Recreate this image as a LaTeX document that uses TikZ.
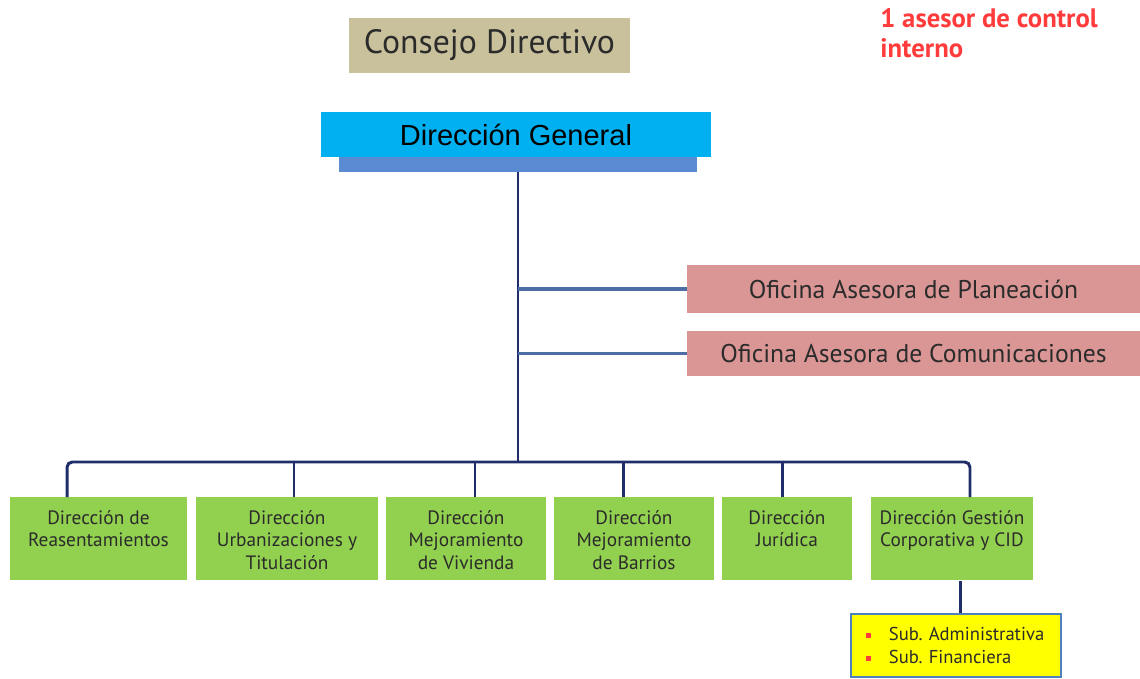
\documentclass[tikz,border=0pt]{standalone}
\usepackage{fontspec}
\setmainfont{PT Sans}
\newfontfamily\arialfont{Liberation Sans}
\usetikzlibrary{positioning}

\definecolor{consejotan}{HTML}{C9C19B}
\definecolor{generalcyan}{HTML}{00B0F0}
\definecolor{generalbar}{HTML}{5A8AD2}
\definecolor{oficinarose}{HTML}{D99694}
\definecolor{dirgreen}{HTML}{92D050}
\definecolor{subyellow}{HTML}{FFFF00}
\definecolor{subblue}{HTML}{4F81BD}
\definecolor{linenavy}{HTML}{1F2D6B}
\definecolor{linesteel}{HTML}{4D6DA5}
\definecolor{asesorred}{HTML}{FF3B3B}
\definecolor{textgray}{HTML}{2B2B2B}

\newcommand{\dirtext}[2]{\parbox[t][1.14cm][t]{#1}{\centering #2}}
\newcommand{\subbullet}{{\color{asesorred}\rule[0.25ex]{3pt}{3pt}}\hspace{10pt}}
\frenchspacing

\begin{document}
\begin{tikzpicture}[x=0.02cm,y=-0.02cm,
  consejo/.style={fill=consejotan, text=textgray, minimum width=5.62cm,
    minimum height=1.1cm, inner sep=0pt, font=\fontsize{19.2}{21}\selectfont},
  general/.style={fill=generalcyan, text=black, minimum width=7.8cm,
    minimum height=0.9cm, inner sep=0pt, font=\arialfont\fontsize{16.5}{18}\selectfont},
  genbar/.style={fill=generalbar, minimum width=7.16cm, minimum height=0.3cm, inner sep=0pt},
  oficina/.style={fill=oficinarose, text=textgray, minimum width=9.06cm,
    inner sep=0pt, font=\fontsize{14.6}{16}\selectfont},
  direccion/.style={fill=dirgreen, text=textgray, anchor=north, inner xsep=0pt,
    inner ysep=0.26cm, minimum height=1.66cm, font=\fontsize{11}{12.8}\selectfont},
  subbox/.style={fill=subyellow, draw=subblue, line width=1.5pt, minimum width=4.2cm,
    minimum height=1.26cm, inner xsep=0.3cm, text width=3.6cm, align=left,
    text=textgray, font=\fontsize{10.6}{13}\selectfont},
  asesor/.style={anchor=north west, align=left, text=asesorred, inner sep=0pt,
    font=\bfseries\fontsize{15.2}{17}\selectfont},
  trunk/.style={draw=linenavy, line width=1.7pt},
  branch/.style={draw=linesteel, line width=2.2pt}]

\useasboundingbox (0,0) rectangle (1140,679);

% Top of the chart
\node[consejo] (cd) at (489.5,45.5) {Consejo Directivo};
\node[asesor] (ci) at (880,8) {1 asesor de control\\interno};
\node[genbar] (dgb) at (518,164.5) {};
\node[general] (dg) at (516,134.5) {Dirección General};

% Advisory offices
\node[oficina, minimum height=0.96cm] (op) at (913.5,289) {Oficina Asesora de Planeación};
\node[oficina, minimum height=0.9cm] (oc) at (913.5,353.5) {Oficina Asesora de Comunicaciones};

% Directions
\node[direccion, minimum width=3.54cm] (d1) at (98.5,497) {\dirtext{3.4cm}{Dirección de\\Reasentamientos}};
\node[direccion, minimum width=3.64cm] (d2) at (287,497) {\dirtext{3.5cm}{Dirección\\Urbanizaciones y\\Titulación}};
\node[direccion, minimum width=3.2cm] (d3) at (466,497) {\dirtext{3.1cm}{Dirección\\Mejoramiento\\de Vivienda}};
\node[direccion, minimum width=3.2cm] (d4) at (634,497) {\dirtext{3.1cm}{Dirección\\Mejoramiento\\de Barrios}};
\node[direccion, minimum width=2.6cm] (d5) at (787,497) {\dirtext{2.5cm}{Dirección\\Jurídica}};
\node[direccion, minimum width=3.24cm] (d6) at (952,497) {\dirtext{3.2cm}{Dirección Gestión\\Corporativa y CID}};

% Sub-directions
\node[subbox] (sub) at (956,645.5) {\subbullet Sub. Administrativa\\\subbullet Sub. Financiera};

% Connectors
\coordinate (bus) at (518,462);
\draw[trunk] (dgb.south) -- (bus);
\draw[trunk, rounded corners=3pt] ([xshift=-0.63cm]d1.north) |- (bus) -| ([xshift=0.36cm]d6.north);
\foreach \d/\s in {d2/0.14cm, d3/0.18cm, d4/-0.22cm, d5/-0.1cm}
  \draw[trunk] ([xshift=\s]\d.north) -- ([xshift=\s]\d.north |- bus);
\foreach \o in {op,oc}
  \draw[branch] (\o.west -| dgb.south) -- (\o.west);
\draw[trunk] ([xshift=0.16cm]d6.south) -- ([xshift=0.16cm]d6.south |- sub.north);

\end{tikzpicture}
\end{document}
